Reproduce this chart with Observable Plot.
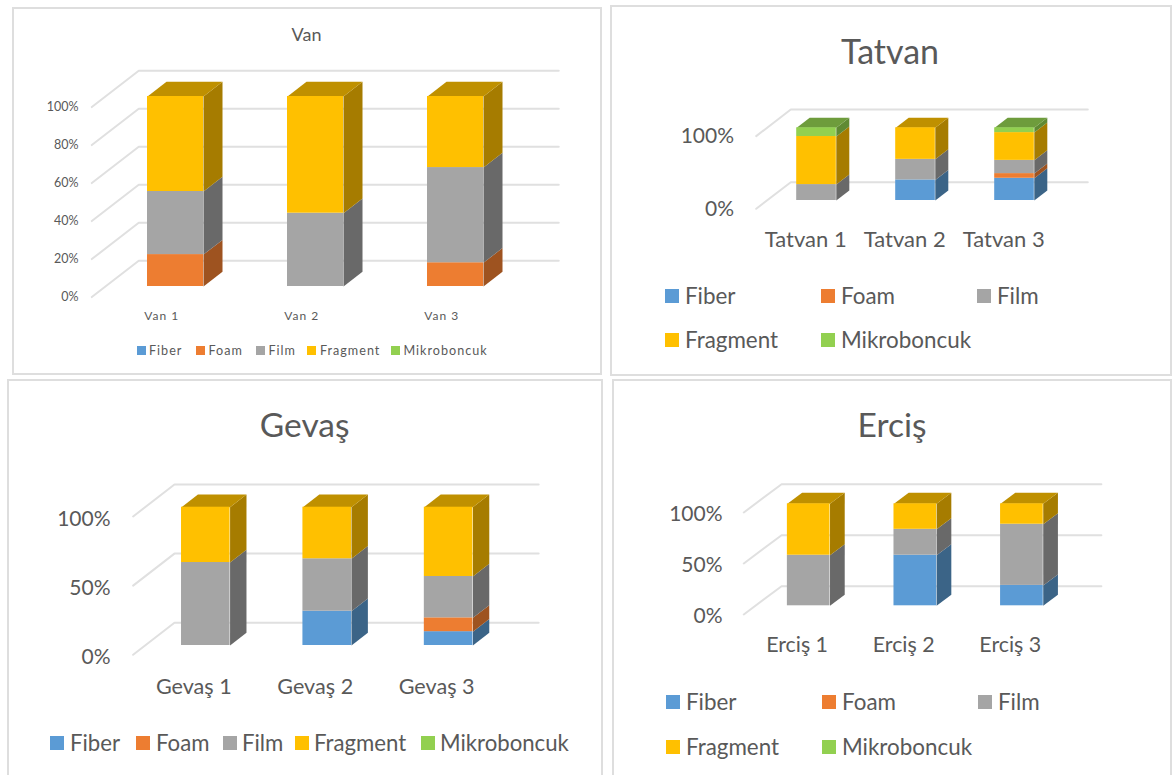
<!DOCTYPE html>
<html>
<head>
<meta charset="utf-8">
<script src="https://cdn.jsdelivr.net/npm/d3@7"></script>
<script src="https://cdn.jsdelivr.net/npm/@observablehq/plot@0.6"></script>
<style>
html,body{margin:0;padding:0;background:#fff;}
#page{position:relative;width:1172px;height:775px;overflow:hidden;background:#fff;font-family:Lato,sans-serif;color:#595959;}
.panel{position:absolute;box-sizing:border-box;border:2px solid #dedede;background:#fff;}
.title{position:absolute;transform:translate(-50%,-50%);white-space:nowrap;color:#595959;}
.sw{position:absolute;}
.lg{position:absolute;transform:translateY(-50%);white-space:nowrap;color:#595959;}
svg.chart{position:absolute;background:transparent;overflow:visible;}
.spaced g[aria-label="x-axis tick label"] text{letter-spacing:1px;}
</style>
</head>
<body>
<div id="page"></div>
<script>
const seriesNames = ["Fiber", "Foam", "Film", "Fragment", "Mikroboncuk"];
const frontColors = ["#5b9bd5", "#ed7d31", "#a5a5a5", "#ffc000", "#92d050"];
const sideColors  = ["#3b6487", "#9e5320", "#696969", "#a67c00", "#5f8a33"];
const topColors   = ["#44739f", "#b25e25", "#7c7c7c", "#bf9000", "#6e9c3c"];

const vanLabels = ["Van 1", "Van 2", "Van 3"];
const vanFiber = [0, 0, 0];
const vanFoam = [16.8, 0, 12.5];
const vanFilm = [33.2, 38.6, 50.1];
const vanFragment = [50, 61.4, 37.4];
const vanMikro = [0, 0, 0];

const tatvanLabels = ["Tatvan 1", "Tatvan 2", "Tatvan 3"];
const tatvanFiber = [0, 28.3, 30.6];
const tatvanFoam = [0, 0, 6.4];
const tatvanFilm = [21.9, 28.3, 18.2];
const tatvanFragment = [66.1, 43.4, 38.2];
const tatvanMikro = [12, 0, 6.6];

const gevasLabels = ["Gevaş 1", "Gevaş 2", "Gevaş 3"];
const gevasFiber = [0, 24.8, 10];
const gevasFoam = [0, 0, 10];
const gevasFilm = [60, 37.9, 29.9];
const gevasFragment = [40, 37.3, 50.1];
const gevasMikro = [0, 0, 0];

const ercisLabels = ["Erciş 1", "Erciş 2", "Erciş 3"];
const ercisFiber = [0, 49.6, 20];
const ercisFoam = [0, 0, 0];
const ercisFilm = [49.6, 25.4, 60];
const ercisFragment = [50.4, 25, 20];
const ercisMikro = [0, 0, 0];

const charts = [
  {title:"Van", labels:vanLabels, values:[vanFiber,vanFoam,vanFilm,vanFragment,vanMikro], ticks:[0,20,40,60,80,100],
   box:[12,7,590,368], xr:[105,525], yr:[286,96], half:0.2, dx:19, dy:14.7, front:0.72, back:1.75,
   titleAt:[306.5,34,18], tickRight:78, tickSize:12.5, tickShift:0, labelY:315, labelSize:12, spaced:true,
   legend:{size:9, font:12.6, spacing:1, rows:[350,350,350,350,350],
     swatch:[137,196,256,307,391], text:[149,208.5,268.5,320,403.5]}},
  {title:"Tatvan", labels:tatvanLabels, values:[tatvanFiber,tatvanFoam,tatvanFilm,tatvanFragment,tatvanMikro], ticks:[0,100],
   box:[610,5,562,371], xr:[766.5,1063.5], yr:[200,127.3], half:0.2, dx:13, dy:10, front:0.83, back:1.83,
   titleAt:[890,50,34], tickRight:733.5, tickSize:21, tickShift:0, labelY:239, labelSize:22,
   legend:{size:14, font:22.4, spacing:0, rows:[296,296,296,340,340],
     swatch:[665,821,977,665,821], text:[685,841,997,685,841]}},
  {title:"Gevaş", labels:gevasLabels, values:[gevasFiber,gevasFoam,gevasFilm,gevasFragment,gevasMikro], ticks:[0,50,100],
   box:[7,379,596,430], xr:[144.6,508.8], yr:[645,506.7], half:0.2, dx:16.4, dy:12.7, front:0.73, back:1.79,
   titleAt:[304.7,424,33.5], tickRight:110, tickSize:21, tickShift:2.5, labelY:686, labelSize:21.6,
   legend:{size:14, font:22.2, spacing:0, rows:[743,743,743,743,743],
     swatch:[50,136,222.6,295,420.6], text:[70,156,242,314,440]}},
  {title:"Erciş", labels:ercisLabels, values:[ercisFiber,ercisFoam,ercisFilm,ercisFragment,ercisMikro], ticks:[0,50,100],
   box:[612,379,560,430], xr:[754.9,1074.7], yr:[605.3,503.3], half:0.2, dx:14.7, dy:11, front:0.79, back:1.78,
   titleAt:[892,424,33.5], tickRight:722, tickSize:21, tickShift:1.5, labelY:644.5, labelSize:21.4,
   legend:{size:14, font:22.4, spacing:0, rows:[702,702,702,747,747],
     swatch:[666,822,978,666,822], text:[686,842,998,686,842]}}
];

const page = document.getElementById("page");

function add(cls, style, text) {
  const el = document.createElement("div");
  el.className = cls;
  Object.assign(el.style, style);
  if (text != null) el.textContent = text;
  page.appendChild(el);
  return el;
}

for (const c of charts) {
  const [bx, by, bw, bh] = c.box;
  add("panel", {left:bx+"px", top:by+"px", width:bw+"px", height:bh+"px"});
  add("title", {left:c.titleAt[0]+"px", top:c.titleAt[1]+"px", fontSize:c.titleAt[2]+"px"}, c.title);

  const spacing = (c.xr[1]-c.xr[0])/3;
  const unit = (c.yr[0]-c.yr[1])/100;
  const ux = c.dx/spacing, uy = c.dy/unit;   // one depth step in data units
  const segs = [], faces = [];
  c.labels.forEach((lab, i) => {
    let acc = 0, lastTop = null;
    seriesNames.forEach((s, k) => {
      const v = c.values[k][i];
      if (!v) return;
      const y1 = acc, y2 = acc + v;
      acc = y2;
      const xl = i + 0.5 - c.half, xr = i + 0.5 + c.half;
      segs.push({x1:xl, x2:xr, y1, y2, series:s});
      const id = lab + s;
      [[xr,y1],[xr+ux,y1+uy],[xr+ux,y2+uy],[xr,y2]].forEach(p =>
        faces.push({id:id+"side", x:p[0], y:p[1], face:s+" side"}));
      lastTop = {xl, xr, y2, s};
    });
    const t = lastTop;
    [[t.xl,t.y2],[t.xr,t.y2],[t.xr+ux,t.y2+uy],[t.xl+ux,t.y2+uy]].forEach(p =>
      faces.push({id:lab+"top", x:p[0], y:p[1], face:t.s+" top"}));
  });
  const grid = c.ticks.flatMap(v => [
    {v, x:-c.front*ux, y:v-c.front*uy},
    {v, x:c.back*ux, y:v+c.back*uy},
    {v, x:3+c.back*ux, y:v+c.back*uy}
  ]);

  const svg = Plot.plot({
    width:bw, height:bh,
    marginLeft:c.tickRight-bx, marginRight:0, marginTop:0,
    marginBottom:bh-(c.labelY-by-c.labelSize*0.37),
    className:"chart",
    style:{position:"absolute", left:bx+"px", top:by+"px", fontFamily:"Lato,sans-serif", background:"transparent", overflow:"visible"},
    x:{type:"linear", domain:[0,3], range:c.xr.map(d=>d-bx)},
    y:{type:"linear", domain:[0,100], range:c.yr.map(d=>d-by)},
    color:{
      domain:[...seriesNames, ...seriesNames.map(s=>s+" side"), ...seriesNames.map(s=>s+" top")],
      range:[...frontColors, ...sideColors, ...topColors]
    },
    marks:[
      Plot.line(grid, {x:"x", y:"y", z:"v", stroke:"#e0e0e0", strokeWidth:2}),
      Plot.axisY({ticks:c.ticks, tickFormat:d=>d+"%", tickSize:0, tickPadding:0, anchor:"left", label:null,
        dy:c.front*c.dy+c.tickShift, fontSize:c.tickSize, fill:"#595959"}),
      Plot.axisX({ticks:[0.5,1.5,2.5], tickFormat:d=>c.labels[Math.floor(d)], tickSize:0, tickPadding:0, anchor:"bottom", label:null,
        dx:-c.front*c.dx, fontSize:c.labelSize, fill:"#595959"}),
      Plot.line(faces, {x:"x", y:"y", z:"id", fill:"face", stroke:"none", curve:"linear"}),
      Plot.rect(segs, {x1:"x1", x2:"x2", y1:"y1", y2:"y2", fill:"series"})
    ]
  });
  if (c.spaced) svg.classList.add("spaced");
  page.appendChild(svg);

  const L = c.legend;
  seriesNames.forEach((s, k) => {
    add("sw", {left:L.swatch[k]+"px", top:(L.rows[k]-L.size/2)+"px", width:L.size+"px", height:L.size+"px", background:frontColors[k]});
    add("lg", {left:L.text[k]+"px", top:(L.rows[k]-(L.font>15?1:0))+"px", fontSize:L.font+"px", letterSpacing:L.spacing+"px"}, s);
  });
}
</script>
</body>
</html>
